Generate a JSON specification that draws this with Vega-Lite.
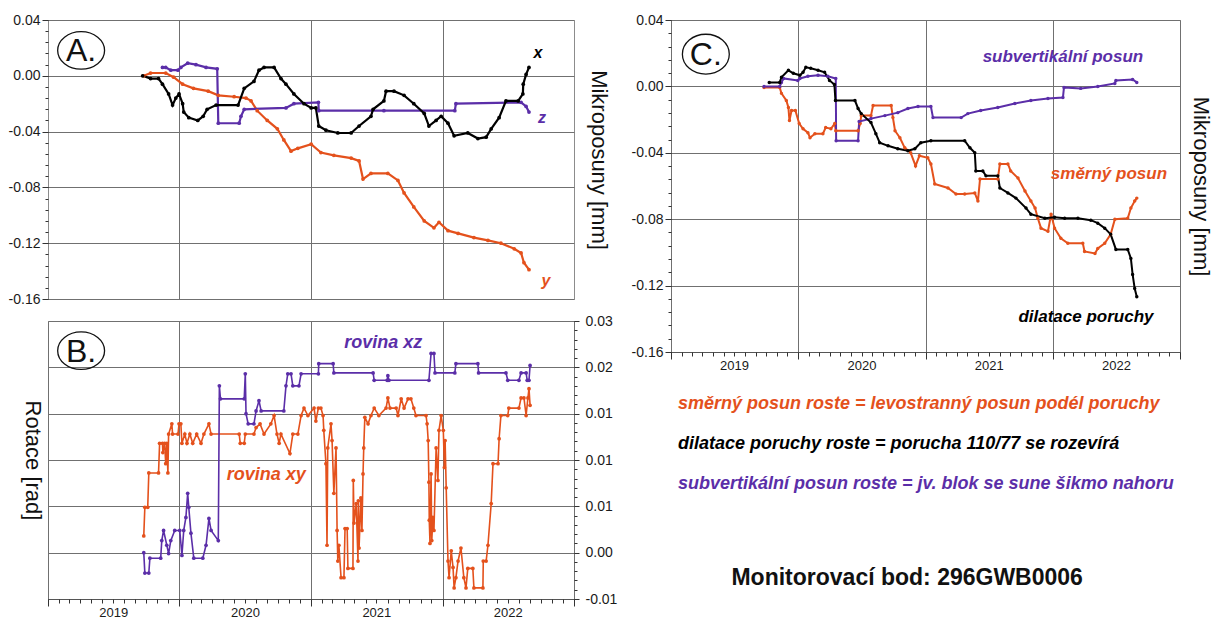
{
"$schema": "https://vega.github.io/schema/vega-lite/v6.json",
"padding": {"left": 7, "top": 12, "right": 0, "bottom": 0},
"background": "white",
"config": {
  "font": "Liberation Sans",
  "locale": {"number": {"decimal": ".", "thousands": ",", "grouping": [3], "currency": ["$", ""], "minus": "-"}},
  "view": {"stroke": "#8c8c8c", "strokeWidth": 1},
  "axis": {"labelFontSize": 14, "labelColor": "#1a1a1a", "tickColor": "#333333", "domainColor": "#555555", "gridColor": "#707070", "gridWidth": 1, "titleFontSize": 22, "titleFontWeight": "normal", "titleColor": "#111111", "labelFont": "Liberation Sans", "titleFont": "Liberation Sans"}
},
"resolve": {"scale": {"color": "independent"}},
"datasets": {
"panelA": [
{"date":"2019-09-24","series":"y","value":0.000},{"date":"2019-10-13","series":"y","value":0.002},{"date":"2019-11-24","series":"y","value":0.002},{"date":"2019-12-16","series":"y","value":-0.001},{"date":"2020-01-10","series":"y","value":-0.006},{"date":"2020-02-09","series":"y","value":-0.009},{"date":"2020-03-21","series":"y","value":-0.011},{"date":"2020-04-18","series":"y","value":-0.014},{"date":"2020-06-01","series":"y","value":-0.015},{"date":"2020-07-04","series":"y","value":-0.016},{"date":"2020-07-18","series":"y","value":-0.018},{"date":"2020-08-04","series":"y","value":-0.025},{"date":"2020-09-01","series":"y","value":-0.032},{"date":"2020-09-29","series":"y","value":-0.038},{"date":"2020-10-17","series":"y","value":-0.046},{"date":"2020-11-06","series":"y","value":-0.054},{"date":"2020-11-25","series":"y","value":-0.052},{"date":"2021-01-01","series":"y","value":-0.049},{"date":"2021-01-28","series":"y","value":-0.055},{"date":"2021-03-05","series":"y","value":-0.057},{"date":"2021-04-22","series":"y","value":-0.059},{"date":"2021-05-14","series":"y","value":-0.061},{"date":"2021-05-25","series":"y","value":-0.074},{"date":"2021-06-16","series":"y","value":-0.070},{"date":"2021-08-02","series":"y","value":-0.070},{"date":"2021-08-30","series":"y","value":-0.075},{"date":"2021-09-16","series":"y","value":-0.084},{"date":"2021-10-13","series":"y","value":-0.094},{"date":"2021-11-11","series":"y","value":-0.104},{"date":"2021-12-08","series":"y","value":-0.109},{"date":"2021-12-22","series":"y","value":-0.105},{"date":"2022-01-16","series":"y","value":-0.111},{"date":"2022-02-13","series":"y","value":-0.113},{"date":"2022-03-29","series":"y","value":-0.116},{"date":"2022-05-07","series":"y","value":-0.118},{"date":"2022-06-12","series":"y","value":-0.120},{"date":"2022-07-19","series":"y","value":-0.124},{"date":"2022-08-07","series":"y","value":-0.127},{"date":"2022-08-15","series":"y","value":-0.134},{"date":"2022-08-29","series":"y","value":-0.139},
{"date":"2019-11-15","series":"z","value":0.006},{"date":"2019-11-24","series":"z","value":0.006},{"date":"2019-12-08","series":"z","value":0.004},{"date":"2019-12-28","series":"z","value":0.004},{"date":"2020-01-05","series":"z","value":0.006},{"date":"2020-01-24","series":"z","value":0.009},{"date":"2020-02-16","series":"z","value":0.008},{"date":"2020-03-15","series":"z","value":0.006},{"date":"2020-04-15","series":"z","value":0.005},{"date":"2020-04-18","series":"z","value":-0.034},{"date":"2020-06-15","series":"z","value":-0.034},{"date":"2020-06-20","series":"z","value":-0.029},{"date":"2020-06-29","series":"z","value":-0.024},{"date":"2020-10-23","series":"z","value":-0.023},{"date":"2020-11-14","series":"z","value":-0.020},{"date":"2021-01-21","series":"z","value":-0.019},{"date":"2021-01-22","series":"z","value":-0.025},{"date":"2021-07-22","series":"z","value":-0.025},{"date":"2022-02-04","series":"z","value":-0.025},{"date":"2022-02-07","series":"z","value":-0.020},{"date":"2022-08-07","series":"z","value":-0.019},{"date":"2022-08-21","series":"z","value":-0.022},{"date":"2022-08-29","series":"z","value":-0.026},
{"date":"2019-09-21","series":"x","value":0.000},{"date":"2019-10-13","series":"x","value":-0.002},{"date":"2019-11-04","series":"x","value":-0.002},{"date":"2019-11-15","series":"x","value":-0.006},{"date":"2019-12-02","series":"x","value":-0.013},{"date":"2019-12-13","series":"x","value":-0.021},{"date":"2019-12-22","series":"x","value":-0.016},{"date":"2019-12-31","series":"x","value":-0.013},{"date":"2020-01-10","series":"x","value":-0.020},{"date":"2020-01-13","series":"x","value":-0.026},{"date":"2020-01-27","series":"x","value":-0.030},{"date":"2020-02-21","series":"x","value":-0.032},{"date":"2020-03-07","series":"x","value":-0.029},{"date":"2020-03-18","series":"x","value":-0.024},{"date":"2020-04-12","series":"x","value":-0.021},{"date":"2020-06-12","series":"x","value":-0.021},{"date":"2020-06-29","series":"x","value":-0.009},{"date":"2020-07-26","series":"x","value":-0.004},{"date":"2020-08-09","series":"x","value":0.004},{"date":"2020-08-23","series":"x","value":0.006},{"date":"2020-09-20","series":"x","value":0.006},{"date":"2020-10-09","series":"x","value":-0.002},{"date":"2020-10-23","series":"x","value":-0.006},{"date":"2020-11-14","series":"x","value":-0.013},{"date":"2020-12-12","series":"x","value":-0.020},{"date":"2021-01-01","series":"x","value":-0.023},{"date":"2021-01-14","series":"x","value":-0.023},{"date":"2021-01-22","series":"x","value":-0.036},{"date":"2021-02-11","series":"x","value":-0.039},{"date":"2021-03-16","series":"x","value":-0.041},{"date":"2021-04-22","series":"x","value":-0.041},{"date":"2021-05-14","series":"x","value":-0.036},{"date":"2021-06-16","series":"x","value":-0.029},{"date":"2021-06-22","series":"x","value":-0.024},{"date":"2021-07-22","series":"x","value":-0.018},{"date":"2021-07-28","series":"x","value":-0.011},{"date":"2021-08-19","series":"x","value":-0.011},{"date":"2021-09-16","series":"x","value":-0.014},{"date":"2021-10-13","series":"x","value":-0.020},{"date":"2021-11-11","series":"x","value":-0.027},{"date":"2021-11-24","series":"x","value":-0.036},{"date":"2021-12-14","series":"x","value":-0.032},{"date":"2021-12-28","series":"x","value":-0.029},{"date":"2022-01-16","series":"x","value":-0.034},{"date":"2022-02-02","series":"x","value":-0.043},{"date":"2022-03-12","series":"x","value":-0.041},{"date":"2022-04-09","series":"x","value":-0.045},{"date":"2022-05-02","series":"x","value":-0.044},{"date":"2022-05-16","series":"x","value":-0.038},{"date":"2022-06-07","series":"x","value":-0.030},{"date":"2022-06-26","series":"x","value":-0.018},{"date":"2022-07-30","series":"x","value":-0.018},{"date":"2022-08-12","series":"x","value":-0.013},{"date":"2022-08-13","series":"x","value":-0.006},{"date":"2022-08-21","series":"x","value":0.001},{"date":"2022-08-29","series":"x","value":0.006}
],
"panelB": [
{"date":"2019-09-24","series":"xy","value":0.0018},{"date":"2019-09-27","series":"xy","value":0.0049},{"date":"2019-10-05","series":"xy","value":0.0049},{"date":"2019-10-08","series":"xy","value":0.0086},{"date":"2019-11-04","series":"xy","value":0.0086},{"date":"2019-11-07","series":"xy","value":0.0118},{"date":"2019-11-15","series":"xy","value":0.0118},{"date":"2019-11-16","series":"xy","value":0.0108},{"date":"2019-11-21","series":"xy","value":0.0118},{"date":"2019-11-24","series":"xy","value":0.0096},{"date":"2019-11-27","series":"xy","value":0.0118},{"date":"2019-11-30","series":"xy","value":0.0086},{"date":"2019-12-02","series":"xy","value":0.0128},{"date":"2019-12-11","series":"xy","value":0.0139},{"date":"2019-12-13","series":"xy","value":0.0128},{"date":"2019-12-28","series":"xy","value":0.0128},{"date":"2019-12-31","series":"xy","value":0.0139},{"date":"2020-01-05","series":"xy","value":0.0139},{"date":"2020-01-08","series":"xy","value":0.0118},{"date":"2020-01-16","series":"xy","value":0.0128},{"date":"2020-01-22","series":"xy","value":0.0118},{"date":"2020-01-30","series":"xy","value":0.0128},{"date":"2020-02-07","series":"xy","value":0.0118},{"date":"2020-02-18","series":"xy","value":0.0128},{"date":"2020-03-01","series":"xy","value":0.0118},{"date":"2020-03-09","series":"xy","value":0.0128},{"date":"2020-03-23","series":"xy","value":0.0139},{"date":"2020-03-29","series":"xy","value":0.0128},{"date":"2020-06-15","series":"xy","value":0.0128},{"date":"2020-06-18","series":"xy","value":0.0118},{"date":"2020-06-29","series":"xy","value":0.0118},{"date":"2020-07-02","series":"xy","value":0.0128},{"date":"2020-07-26","series":"xy","value":0.0128},{"date":"2020-08-01","series":"xy","value":0.0135},{"date":"2020-08-12","series":"xy","value":0.0139},{"date":"2020-08-23","series":"xy","value":0.0128},{"date":"2020-09-11","series":"xy","value":0.0139},{"date":"2020-09-20","series":"xy","value":0.0148},{"date":"2020-09-28","series":"xy","value":0.0128},{"date":"2020-10-04","series":"xy","value":0.0118},{"date":"2020-10-09","series":"xy","value":0.0128},{"date":"2020-11-03","series":"xy","value":0.0107},{"date":"2020-11-11","series":"xy","value":0.0128},{"date":"2020-11-25","series":"xy","value":0.0128},{"date":"2020-12-04","series":"xy","value":0.0148},{"date":"2020-12-12","series":"xy","value":0.0156},{"date":"2020-12-23","series":"xy","value":0.0148},{"date":"2021-01-09","series":"xy","value":0.0156},{"date":"2021-01-14","series":"xy","value":0.0142},{"date":"2021-01-21","series":"xy","value":0.0156},{"date":"2021-01-28","series":"xy","value":0.0156},{"date":"2021-02-03","series":"xy","value":0.0148},{"date":"2021-02-05","series":"xy","value":0.0132},{"date":"2021-02-11","series":"xy","value":0.0096},{"date":"2021-02-14","series":"xy","value":0.0008},{"date":"2021-02-16","series":"xy","value":0.0113},{"date":"2021-02-25","series":"xy","value":0.0139},{"date":"2021-02-28","series":"xy","value":0.0121},{"date":"2021-03-05","series":"xy","value":0.0064},{"date":"2021-03-11","series":"xy","value":0.0113},{"date":"2021-03-14","series":"xy","value":0.0024},{"date":"2021-03-16","series":"xy","value":-0.0009},{"date":"2021-03-19","series":"xy","value":0.0008},{"date":"2021-03-25","series":"xy","value":-0.0027},{"date":"2021-04-02","series":"xy","value":-0.0027},{"date":"2021-04-05","series":"xy","value":0.0026},{"date":"2021-04-11","series":"xy","value":0.0026},{"date":"2021-04-13","series":"xy","value":-0.0017},{"date":"2021-04-27","series":"xy","value":-0.0017},{"date":"2021-04-28","series":"xy","value":0.0078},{"date":"2021-04-30","series":"xy","value":0.0032},{"date":"2021-05-06","series":"xy","value":0.0053},{"date":"2021-05-11","series":"xy","value":-0.0009},{"date":"2021-05-12","series":"xy","value":0.0056},{"date":"2021-05-14","series":"xy","value":0.0005},{"date":"2021-05-19","series":"xy","value":0.0059},{"date":"2021-05-22","series":"xy","value":0.0024},{"date":"2021-05-25","series":"xy","value":0.0085},{"date":"2021-05-27","series":"xy","value":0.0113},{"date":"2021-05-30","series":"xy","value":0.0146},{"date":"2021-06-08","series":"xy","value":0.0139},{"date":"2021-06-16","series":"xy","value":0.0148},{"date":"2021-06-25","series":"xy","value":0.0156},{"date":"2021-07-08","series":"xy","value":0.0148},{"date":"2021-07-28","series":"xy","value":0.0156},{"date":"2021-08-02","series":"xy","value":0.0167},{"date":"2021-08-08","series":"xy","value":0.0156},{"date":"2021-08-25","series":"xy","value":0.0156},{"date":"2021-08-30","series":"xy","value":0.0148},{"date":"2021-09-08","series":"xy","value":0.0166},{"date":"2021-09-16","series":"xy","value":0.0156},{"date":"2021-09-27","series":"xy","value":0.0166},{"date":"2021-10-05","series":"xy","value":0.0166},{"date":"2021-10-13","series":"xy","value":0.0156},{"date":"2021-10-19","series":"xy","value":0.0148},{"date":"2021-11-16","series":"xy","value":0.0148},{"date":"2021-11-19","series":"xy","value":0.0139},{"date":"2021-11-22","series":"xy","value":0.0121},{"date":"2021-11-24","series":"xy","value":0.0076},{"date":"2021-11-25","series":"xy","value":0.0035},{"date":"2021-11-27","series":"xy","value":0.0010},{"date":"2021-11-30","series":"xy","value":0.0085},{"date":"2021-12-02","series":"xy","value":0.0013},{"date":"2021-12-05","series":"xy","value":0.0038},{"date":"2021-12-08","series":"xy","value":0.0024},{"date":"2021-12-14","series":"xy","value":0.0113},{"date":"2021-12-19","series":"xy","value":0.0078},{"date":"2021-12-22","series":"xy","value":0.0132},{"date":"2021-12-28","series":"xy","value":0.0148},{"date":"2022-01-03","series":"xy","value":0.0132},{"date":"2022-01-06","series":"xy","value":0.0092},{"date":"2022-01-08","series":"xy","value":0.0121},{"date":"2022-01-11","series":"xy","value":0.0070},{"date":"2022-01-16","series":"xy","value":-0.0009},{"date":"2022-01-19","series":"xy","value":-0.0027},{"date":"2022-01-25","series":"xy","value":0.0002},{"date":"2022-01-30","series":"xy","value":-0.0016},{"date":"2022-02-02","series":"xy","value":-0.0038},{"date":"2022-02-07","series":"xy","value":-0.0027},{"date":"2022-02-13","series":"xy","value":-0.0009},{"date":"2022-02-21","series":"xy","value":0.0005},{"date":"2022-03-01","series":"xy","value":-0.0027},{"date":"2022-03-07","series":"xy","value":-0.0038},{"date":"2022-03-12","series":"xy","value":-0.0017},{"date":"2022-03-26","series":"xy","value":-0.0017},{"date":"2022-03-29","series":"xy","value":-0.0038},{"date":"2022-04-23","series":"xy","value":-0.0038},{"date":"2022-04-24","series":"xy","value":-0.0009},{"date":"2022-05-02","series":"xy","value":-0.0009},{"date":"2022-05-07","series":"xy","value":0.0008},{"date":"2022-05-16","series":"xy","value":0.0053},{"date":"2022-05-21","series":"xy","value":0.0096},{"date":"2022-06-04","series":"xy","value":0.0096},{"date":"2022-06-07","series":"xy","value":0.0123},{"date":"2022-06-12","series":"xy","value":0.0148},{"date":"2022-07-01","series":"xy","value":0.0148},{"date":"2022-07-04","series":"xy","value":0.0156},{"date":"2022-08-01","series":"xy","value":0.0156},{"date":"2022-08-07","series":"xy","value":0.0167},{"date":"2022-08-15","series":"xy","value":0.0167},{"date":"2022-08-21","series":"xy","value":0.0148},{"date":"2022-08-26","series":"xy","value":0.0167},{"date":"2022-08-29","series":"xy","value":0.0177},{"date":"2022-09-01","series":"xy","value":0.0159},
{"date":"2019-09-24","series":"xz","value":0.0000},{"date":"2019-09-27","series":"xz","value":-0.0022},{"date":"2019-10-08","series":"xz","value":-0.0022},{"date":"2019-10-11","series":"xz","value":-0.0006},{"date":"2019-11-10","series":"xz","value":-0.0006},{"date":"2019-11-13","series":"xz","value":0.0013},{"date":"2019-11-18","series":"xz","value":0.0024},{"date":"2019-11-27","series":"xz","value":0.0008},{"date":"2019-12-02","series":"xz","value":-0.0001},{"date":"2019-12-08","series":"xz","value":0.0013},{"date":"2019-12-19","series":"xz","value":0.0024},{"date":"2020-01-02","series":"xz","value":0.0024},{"date":"2020-01-08","series":"xz","value":-0.0003},{"date":"2020-01-13","series":"xz","value":0.0024},{"date":"2020-01-19","series":"xz","value":0.0038},{"date":"2020-01-24","series":"xz","value":0.0064},{"date":"2020-01-27","series":"xz","value":0.0049},{"date":"2020-02-02","series":"xz","value":0.0021},{"date":"2020-02-10","series":"xz","value":-0.0006},{"date":"2020-03-06","series":"xz","value":-0.0006},{"date":"2020-03-15","series":"xz","value":0.0008},{"date":"2020-03-23","series":"xz","value":0.0037},{"date":"2020-03-29","series":"xz","value":0.0024},{"date":"2020-04-18","series":"xz","value":0.0013},{"date":"2020-04-21","series":"xz","value":0.0180},{"date":"2020-04-24","series":"xz","value":0.0166},{"date":"2020-06-29","series":"xz","value":0.0166},{"date":"2020-07-02","series":"xz","value":0.0193},{"date":"2020-07-04","series":"xz","value":0.0150},{"date":"2020-07-10","series":"xz","value":0.0139},{"date":"2020-07-26","series":"xz","value":0.0139},{"date":"2020-08-01","series":"xz","value":0.0153},{"date":"2020-08-09","series":"xz","value":0.0164},{"date":"2020-08-15","series":"xz","value":0.0153},{"date":"2020-10-17","series":"xz","value":0.0153},{"date":"2020-10-23","series":"xz","value":0.0180},{"date":"2020-10-28","series":"xz","value":0.0193},{"date":"2020-11-06","series":"xz","value":0.0193},{"date":"2020-11-11","series":"xz","value":0.0180},{"date":"2020-11-28","series":"xz","value":0.0180},{"date":"2020-12-04","series":"xz","value":0.0193},{"date":"2021-01-21","series":"xz","value":0.0193},{"date":"2021-01-22","series":"xz","value":0.0204},{"date":"2021-03-03","series":"xz","value":0.0204},{"date":"2021-03-05","series":"xz","value":0.0194},{"date":"2021-06-22","series":"xz","value":0.0194},{"date":"2021-06-25","series":"xz","value":0.0186},{"date":"2021-07-31","series":"xz","value":0.0186},{"date":"2021-08-02","series":"xz","value":0.0191},{"date":"2021-08-05","series":"xz","value":0.0186},{"date":"2021-11-24","series":"xz","value":0.0186},{"date":"2021-11-30","series":"xz","value":0.0215},{"date":"2021-12-08","series":"xz","value":0.0215},{"date":"2021-12-11","series":"xz","value":0.0194},{"date":"2022-02-04","series":"xz","value":0.0194},{"date":"2022-02-07","series":"xz","value":0.0204},{"date":"2022-04-09","series":"xz","value":0.0204},{"date":"2022-04-11","series":"xz","value":0.0194},{"date":"2022-06-26","series":"xz","value":0.0194},{"date":"2022-07-01","series":"xz","value":0.0186},{"date":"2022-08-01","series":"xz","value":0.0186},{"date":"2022-08-07","series":"xz","value":0.0194},{"date":"2022-08-21","series":"xz","value":0.0194},{"date":"2022-08-24","series":"xz","value":0.0186},{"date":"2022-08-29","series":"xz","value":0.0186},{"date":"2022-09-01","series":"xz","value":0.0202}
],
"panelC": [
{"date":"2019-09-25","series":"směrný posun","value":-0.0006},{"date":"2019-11-09","series":"směrný posun","value":-0.0006},{"date":"2019-11-14","series":"směrný posun","value":-0.0042},{"date":"2019-11-28","series":"směrný posun","value":-0.0085},{"date":"2019-12-04","series":"směrný posun","value":-0.0127},{"date":"2019-12-07","series":"směrný posun","value":-0.0206},{"date":"2019-12-13","series":"směrný posun","value":-0.0145},{"date":"2019-12-24","series":"směrný posun","value":-0.0145},{"date":"2020-01-04","series":"směrný posun","value":-0.0224},{"date":"2020-01-15","series":"směrný posun","value":-0.0255},{"date":"2020-01-29","series":"směrný posun","value":-0.0279},{"date":"2020-02-04","series":"směrný posun","value":-0.0309},{"date":"2020-02-18","series":"směrný posun","value":-0.0285},{"date":"2020-03-12","series":"směrný posun","value":-0.0285},{"date":"2020-03-20","series":"směrný posun","value":-0.0248},{"date":"2020-04-04","series":"směrný posun","value":-0.0255},{"date":"2020-04-15","series":"směrný posun","value":-0.0224},{"date":"2020-04-18","series":"směrný posun","value":-0.0267},{"date":"2020-06-21","series":"směrný posun","value":-0.0267},{"date":"2020-06-27","series":"směrný posun","value":-0.0224},{"date":"2020-06-30","series":"směrný posun","value":-0.0176},{"date":"2020-07-28","series":"směrný posun","value":-0.0176},{"date":"2020-08-03","series":"směrný posun","value":-0.0115},{"date":"2020-09-24","series":"směrný posun","value":-0.0115},{"date":"2020-09-29","series":"směrný posun","value":-0.0188},{"date":"2020-10-05","series":"směrný posun","value":-0.0267},{"date":"2020-10-19","series":"směrný posun","value":-0.0309},{"date":"2020-11-02","series":"směrný posun","value":-0.0370},{"date":"2020-11-19","series":"směrný posun","value":-0.0400},{"date":"2020-12-03","series":"směrný posun","value":-0.0479},{"date":"2020-12-14","series":"směrný posun","value":-0.0418},{"date":"2021-01-07","series":"směrný posun","value":-0.0430},{"date":"2021-01-16","series":"směrný posun","value":-0.0467},{"date":"2021-01-27","series":"směrný posun","value":-0.0588},{"date":"2021-03-06","series":"směrný posun","value":-0.0612},{"date":"2021-03-29","series":"směrný posun","value":-0.0648},{"date":"2021-04-23","series":"směrný posun","value":-0.0648},{"date":"2021-05-22","series":"směrný posun","value":-0.0642},{"date":"2021-05-31","series":"směrný posun","value":-0.0691},{"date":"2021-06-06","series":"směrný posun","value":-0.0558},{"date":"2021-07-27","series":"směrný posun","value":-0.0558},{"date":"2021-08-02","series":"směrný posun","value":-0.0467},{"date":"2021-08-25","series":"směrný posun","value":-0.0467},{"date":"2021-09-02","series":"směrný posun","value":-0.0509},{"date":"2021-09-23","series":"směrný posun","value":-0.0552},{"date":"2021-10-13","series":"směrný posun","value":-0.0630},{"date":"2021-10-30","series":"směrný posun","value":-0.0691},{"date":"2021-11-11","series":"směrný posun","value":-0.0733},{"date":"2021-11-19","series":"směrný posun","value":-0.0794},{"date":"2021-11-28","series":"směrný posun","value":-0.0854},{"date":"2021-12-18","series":"směrný posun","value":-0.0873},{"date":"2021-12-27","series":"směrný posun","value":-0.0770},{"date":"2022-01-06","series":"směrný posun","value":-0.0854},{"date":"2022-01-24","series":"směrný posun","value":-0.0915},{"date":"2022-02-13","series":"směrný posun","value":-0.0945},{"date":"2022-03-28","series":"směrný posun","value":-0.0945},{"date":"2022-04-02","series":"směrný posun","value":-0.0994},{"date":"2022-05-02","series":"směrný posun","value":-0.1006},{"date":"2022-05-10","series":"směrný posun","value":-0.0976},{"date":"2022-05-30","series":"směrný posun","value":-0.0945},{"date":"2022-06-16","series":"směrný posun","value":-0.0891},{"date":"2022-06-28","series":"směrný posun","value":-0.0800},{"date":"2022-08-04","series":"směrný posun","value":-0.0794},{"date":"2022-08-13","series":"směrný posun","value":-0.0733},{"date":"2022-08-24","series":"směrný posun","value":-0.0691},{"date":"2022-08-30","series":"směrný posun","value":-0.0673},
{"date":"2019-09-25","series":"subvertikální posun","value":0.0000},{"date":"2019-11-09","series":"subvertikální posun","value":0.0000},{"date":"2019-11-14","series":"subvertikální posun","value":0.0024},{"date":"2019-11-20","series":"subvertikální posun","value":0.0048},{"date":"2019-12-31","series":"subvertikální posun","value":0.0036},{"date":"2020-01-06","series":"subvertikální posun","value":0.0048},{"date":"2020-01-29","series":"subvertikální posun","value":0.0061},{"date":"2020-02-27","series":"subvertikální posun","value":0.0067},{"date":"2020-03-26","series":"subvertikální posun","value":0.0061},{"date":"2020-04-18","series":"subvertikální posun","value":0.0048},{"date":"2020-04-19","series":"subvertikální posun","value":-0.0327},{"date":"2020-06-21","series":"subvertikální posun","value":-0.0327},{"date":"2020-06-24","series":"subvertikální posun","value":-0.0212},{"date":"2020-07-28","series":"subvertikální posun","value":-0.0194},{"date":"2020-09-06","series":"subvertikální posun","value":-0.0176},{"date":"2020-10-13","series":"subvertikální posun","value":-0.0158},{"date":"2020-11-11","series":"subvertikální posun","value":-0.0133},{"date":"2020-12-10","series":"subvertikální posun","value":-0.0121},{"date":"2021-01-16","series":"subvertikální posun","value":-0.0121},{"date":"2021-01-22","series":"subvertikální posun","value":-0.0188},{"date":"2021-04-13","series":"subvertikální posun","value":-0.0188},{"date":"2021-05-02","series":"subvertikální posun","value":-0.0164},{"date":"2021-06-08","series":"subvertikální posun","value":-0.0145},{"date":"2021-07-27","series":"subvertikální posun","value":-0.0127},{"date":"2021-09-14","series":"subvertikální posun","value":-0.0103},{"date":"2021-10-30","series":"subvertikální posun","value":-0.0085},{"date":"2021-12-18","series":"subvertikální posun","value":-0.0073},{"date":"2022-01-30","series":"subvertikální posun","value":-0.0067},{"date":"2022-02-02","series":"subvertikální posun","value":-0.0006},{"date":"2022-03-22","series":"subvertikální posun","value":-0.0012},{"date":"2022-05-10","series":"subvertikální posun","value":0.0000},{"date":"2022-06-28","series":"subvertikální posun","value":0.0018},{"date":"2022-07-01","series":"subvertikální posun","value":0.0036},{"date":"2022-08-18","series":"subvertikální posun","value":0.0042},{"date":"2022-08-30","series":"subvertikální posun","value":0.0024},
{"date":"2019-10-10","series":"dilatace poruchy","value":0.0024},{"date":"2019-11-09","series":"dilatace poruchy","value":0.0024},{"date":"2019-11-14","series":"dilatace poruchy","value":0.0055},{"date":"2019-12-04","series":"dilatace poruchy","value":0.0097},{"date":"2019-12-18","series":"dilatace poruchy","value":0.0079},{"date":"2020-01-06","series":"dilatace poruchy","value":0.0067},{"date":"2020-01-15","series":"dilatace poruchy","value":0.0085},{"date":"2020-01-23","series":"dilatace poruchy","value":0.0115},{"date":"2020-02-06","series":"dilatace poruchy","value":0.0109},{"date":"2020-02-27","series":"dilatace poruchy","value":0.0097},{"date":"2020-03-17","series":"dilatace poruchy","value":0.0085},{"date":"2020-03-31","series":"dilatace poruchy","value":0.0036},{"date":"2020-04-14","series":"dilatace poruchy","value":0.0012},{"date":"2020-04-17","series":"dilatace poruchy","value":-0.0085},{"date":"2020-06-12","series":"dilatace poruchy","value":-0.0085},{"date":"2020-06-21","series":"dilatace poruchy","value":-0.0133},{"date":"2020-06-30","series":"dilatace poruchy","value":-0.0164},{"date":"2020-07-28","series":"dilatace poruchy","value":-0.0218},{"date":"2020-08-11","series":"dilatace poruchy","value":-0.0285},{"date":"2020-08-22","series":"dilatace poruchy","value":-0.0339},{"date":"2020-09-15","series":"dilatace poruchy","value":-0.0358},{"date":"2020-10-13","series":"dilatace poruchy","value":-0.0376},{"date":"2020-11-11","series":"dilatace poruchy","value":-0.0388},{"date":"2020-12-01","series":"dilatace poruchy","value":-0.0376},{"date":"2020-12-18","series":"dilatace poruchy","value":-0.0339},{"date":"2021-01-16","series":"dilatace poruchy","value":-0.0327},{"date":"2021-04-23","series":"dilatace poruchy","value":-0.0327},{"date":"2021-05-08","series":"dilatace poruchy","value":-0.0370},{"date":"2021-05-22","series":"dilatace poruchy","value":-0.0400},{"date":"2021-05-25","series":"dilatace poruchy","value":-0.0509},{"date":"2021-06-14","series":"dilatace poruchy","value":-0.0509},{"date":"2021-06-23","series":"dilatace poruchy","value":-0.0539},{"date":"2021-07-27","series":"dilatace poruchy","value":-0.0539},{"date":"2021-08-02","series":"dilatace poruchy","value":-0.0612},{"date":"2021-08-25","series":"dilatace poruchy","value":-0.0642},{"date":"2021-09-17","series":"dilatace poruchy","value":-0.0673},{"date":"2021-10-16","series":"dilatace poruchy","value":-0.0733},{"date":"2021-10-30","series":"dilatace poruchy","value":-0.0770},{"date":"2021-12-09","series":"dilatace poruchy","value":-0.0794},{"date":"2022-01-06","series":"dilatace poruchy","value":-0.0788},{"date":"2022-02-04","series":"dilatace poruchy","value":-0.0794},{"date":"2022-03-14","series":"dilatace poruchy","value":-0.0794},{"date":"2022-04-20","series":"dilatace poruchy","value":-0.0806},{"date":"2022-05-10","series":"dilatace poruchy","value":-0.0824},{"date":"2022-05-30","series":"dilatace poruchy","value":-0.0854},{"date":"2022-06-16","series":"dilatace poruchy","value":-0.0891},{"date":"2022-07-01","series":"dilatace poruchy","value":-0.0982},{"date":"2022-08-04","series":"dilatace poruchy","value":-0.0982},{"date":"2022-08-13","series":"dilatace poruchy","value":-0.1036},{"date":"2022-08-18","series":"dilatace poruchy","value":-0.1133},{"date":"2022-08-24","series":"dilatace poruchy","value":-0.1218},{"date":"2022-08-30","series":"dilatace poruchy","value":-0.1267}
]
},
"spacing": 12,
"hconcat": [
{
 "resolve": {"scale": {"color": "independent"}},
 "vconcat": [
 {
  "width": 526, "height": 279,
  "resolve": {"axis": {"x": "independent", "y": "independent"}},
  "layer": [
   {
    "data": {"name": "panelA"},
    "mark": {"type": "line", "strokeWidth": 2.2, "point": {"filled": true, "size": 14}},
    "encoding": {
     "x": {"field": "date", "type": "temporal", "scale": {"domain": [{"year":2019,"month":1,"date":1},{"year":2023,"month":1,"date":1}]}, "axis": {"orient": "bottom", "values": [{"year":2020,"month":1,"date":1},{"year":2021,"month":1,"date":1},{"year":2022,"month":1,"date":1}], "grid": true, "ticks": false, "labels": false, "domain": false, "title": null}},
     "y": {"field": "value", "type": "quantitative", "scale": {"domain": [-0.16, 0.04], "nice": false, "zero": false}, "axis": {"orient": "left", "values": [-0.16,-0.12,-0.08,-0.04,0,0.04], "format": ".2f", "grid": true, "tickSize": 6, "labelPadding": 2, "domain": false, "title": null}},
     "color": {"field": "series", "type": "nominal", "scale": {"domain": ["y","z","x"], "range": ["#e4511c","#5b2ea8","#000000"]}, "legend": null}
    }
   },
   {
    "data": {"values": [{}]},
    "mark": {"type": "text", "text": "x", "fontSize": 16, "fontWeight": "bold", "fontStyle": "italic", "color": "#000000"},
    "encoding": {
     "x": {"datum": {"year":2022,"month":9,"date":23}, "type": "temporal", "axis": null},
     "y": {"datum": 0.0164, "type": "quantitative", "axis": {"orient": "left", "values": [-0.16,-0.152,-0.144,-0.136,-0.128,-0.12,-0.112,-0.104,-0.096,-0.088,-0.08,-0.072,-0.064,-0.056,-0.048,-0.04,-0.032,-0.024,-0.016,-0.008,0,0.008,0.016,0.024,0.032,0.04], "tickSize": 3, "labels": false, "grid": false, "domain": false, "title": null}}
    }
   },
   {
    "data": {"values": [{}]},
    "mark": {"type": "text", "text": "z", "fontSize": 16, "fontWeight": "bold", "fontStyle": "italic", "color": "#5b2ea8"},
    "encoding": {
     "x": {"datum": {"year":2022,"month":10,"date":4}, "type": "temporal", "axis": null},
     "y": {"datum": -0.030, "type": "quantitative", "axis": null}
    }
   },
   {
    "data": {"values": [{}]},
    "mark": {"type": "text", "text": "y", "fontSize": 16, "fontWeight": "bold", "fontStyle": "italic", "color": "#e4511c"},
    "encoding": {
     "x": {"datum": {"year":2022,"month":10,"date":15}, "type": "temporal", "axis": null},
     "y": {"datum": -0.147, "type": "quantitative", "axis": {"orient": "right", "title": "Mikroposuny [mm]", "ticks": false, "labels": false, "domain": false, "grid": false, "titlePadding": 12}}
    }
   },
   {
    "data": {"values": [{}]},
    "mark": {"type": "point", "shape": "M-1,0A1,0.8,0,1,0,1,0A1,0.8,0,1,0,-1,0Z", "size": 2200, "filled": false, "stroke": "#111111", "strokeWidth": 1.3, "opacity": 1},
    "encoding": {
     "x": {"datum": {"year":2019,"month":4,"date":3}, "type": "temporal", "axis": null},
     "y": {"datum": 0.0182, "type": "quantitative", "axis": null}
    }
   },
   {
    "data": {"values": [{}]},
    "mark": {"type": "text", "text": "A.", "fontSize": 32, "color": "#111111", "align": "center", "baseline": "middle", "dy": 1},
    "encoding": {
     "x": {"datum": {"year":2019,"month":4,"date":3}, "type": "temporal", "axis": null},
     "y": {"datum": 0.0182, "type": "quantitative", "axis": null}
    }
   }
  ]
 },
 {
  "width": 526, "height": 278,
  "resolve": {"axis": {"x": "independent", "y": "independent"}},
  "layer": [
   {
    "data": {"name": "panelB"},
    "mark": {"type": "line", "strokeWidth": 1.6, "point": {"filled": true, "size": 14}},
    "encoding": {
     "x": {"field": "date", "type": "temporal", "scale": {"domain": [{"year":2019,"month":1,"date":1},{"year":2023,"month":1,"date":1}]}, "axis": {"orient": "bottom", "values": [{"year":2019,"month":1,"date":1},{"year":2020,"month":1,"date":1},{"year":2021,"month":1,"date":1},{"year":2022,"month":1,"date":1},{"year":2023,"month":1,"date":1}], "grid": true, "tickSize": 7, "labels": false, "domain": true, "title": null}},
     "y": {"field": "value", "type": "quantitative", "scale": {"domain": [-0.005, 0.025], "nice": false, "zero": false}, "axis": {"orient": "right", "values": [-0.005,0,0.005,0.01,0.015,0.02,0.025], "format": ".2f", "grid": true, "tickSize": 5, "labelPadding": 6, "domain": false, "title": null}},
     "color": {"field": "series", "type": "nominal", "scale": {"domain": ["xy","xz"], "range": ["#e4511c","#5b2ea8"]}, "legend": null}
    }
   },
   {
    "data": {"values": [{}]},
    "mark": {"type": "text", "text": "rovina xz", "fontSize": 18, "fontWeight": "bold", "fontStyle": "italic", "color": "#5b2ea8"},
    "encoding": {
     "x": {"datum": {"year":2021,"month":7,"date":20}, "type": "temporal", "axis": {"orient": "bottom", "tickCount": {"interval": "month", "step": 1}, "tickSize": 4, "labelPadding": 3, "labelFontSize": 13, "labelExpr": "month(datum.value) == 6 ? timeFormat(datum.value, '%Y') : ''", "labelOverlap": false, "labelFlush": false, "labelBound": false, "grid": false, "domain": false, "title": null}},
     "y": {"datum": 0.0226, "type": "quantitative", "axis": {"orient": "left", "title": "Rotace [rad]", "titleAngle": 90, "titleBaseline": "top", "titlePadding": 6, "ticks": false, "labels": false, "domain": false, "grid": false}}
    }
   },
   {
    "data": {"values": [{}]},
    "mark": {"type": "text", "text": "rovina xy", "fontSize": 18, "fontWeight": "bold", "fontStyle": "italic", "color": "#e4511c"},
    "encoding": {
     "x": {"datum": {"year":2020,"month":8,"date":29}, "type": "temporal", "axis": null},
     "y": {"datum": 0.0084, "type": "quantitative", "axis": {"orient": "right", "values": [-0.005,-0.004,-0.003,-0.002,-0.001,0,0.001,0.002,0.003,0.004,0.005,0.006,0.007,0.008,0.009,0.01,0.011,0.012,0.013,0.014,0.015,0.016,0.017,0.018,0.019,0.02,0.021,0.022,0.023,0.024,0.025], "tickSize": 3, "labels": false, "grid": false, "domain": false, "title": null}}
    }
   },
   {
    "data": {"values": [{}]},
    "mark": {"type": "point", "shape": "M-1,0A1,0.8,0,1,0,1,0A1,0.8,0,1,0,-1,0Z", "size": 2200, "filled": false, "stroke": "#111111", "strokeWidth": 1.3, "opacity": 1},
    "encoding": {
     "x": {"datum": {"year":2019,"month":4,"date":3}, "type": "temporal", "axis": null},
     "y": {"datum": 0.0218, "type": "quantitative", "axis": null}
    }
   },
   {
    "data": {"values": [{}]},
    "mark": {"type": "text", "text": "B.", "fontSize": 32, "color": "#111111", "align": "center", "baseline": "middle", "dy": 1},
    "encoding": {
     "x": {"datum": {"year":2019,"month":4,"date":3}, "type": "temporal", "axis": null},
     "y": {"datum": 0.0218, "type": "quantitative", "axis": null}
    }
   }
  ]
 }
 ],
 "spacing": 22,
 "bounds": "flush"
},
{
 "resolve": {"scale": {"color": "independent"}},
 "vconcat": [
 {
  "width": 509, "height": 332,
  "resolve": {"axis": {"x": "independent", "y": "independent"}},
  "layer": [
   {
    "data": {"name": "panelC"},
    "mark": {"type": "line", "strokeWidth": 2, "point": {"filled": true, "size": 12}},
    "encoding": {
     "x": {"field": "date", "type": "temporal", "scale": {"domain": [{"year":2019,"month":1,"date":1},{"year":2023,"month":1,"date":1}]}, "axis": {"orient": "bottom", "values": [{"year":2019,"month":1,"date":1},{"year":2020,"month":1,"date":1},{"year":2021,"month":1,"date":1},{"year":2022,"month":1,"date":1},{"year":2023,"month":1,"date":1}], "grid": true, "tickSize": 7, "labels": false, "domain": true, "title": null}},
     "y": {"field": "value", "type": "quantitative", "scale": {"domain": [-0.16, 0.04], "nice": false, "zero": false}, "axis": {"orient": "left", "values": [-0.16,-0.12,-0.08,-0.04,0,0.04], "format": ".2f", "grid": true, "tickSize": 6, "labelPadding": 2, "domain": false, "title": null}},
     "color": {"field": "series", "type": "nominal", "scale": {"domain": ["směrný posun","subvertikální posun","dilatace poruchy"], "range": ["#e4511c","#5b2ea8","#000000"]}, "legend": null}
    }
   },
   {
    "data": {"values": [{}]},
    "mark": {"type": "text", "text": "subvertikální posun", "fontSize": 17, "fontWeight": "bold", "fontStyle": "italic", "color": "#5b2ea8"},
    "encoding": {
     "x": {"datum": {"year":2022,"month":1,"date":30}, "type": "temporal", "axis": {"orient": "bottom", "tickCount": {"interval": "month", "step": 1}, "tickSize": 4, "labelPadding": 3, "labelFontSize": 13, "labelExpr": "month(datum.value) == 6 ? timeFormat(datum.value, '%Y') : ''", "labelOverlap": false, "labelFlush": false, "labelBound": false, "grid": false, "domain": false, "title": null}},
     "y": {"datum": 0.0176, "type": "quantitative", "axis": {"orient": "left", "values": [-0.16,-0.152,-0.144,-0.136,-0.128,-0.12,-0.112,-0.104,-0.096,-0.088,-0.08,-0.072,-0.064,-0.056,-0.048,-0.04,-0.032,-0.024,-0.016,-0.008,0,0.008,0.016,0.024,0.032,0.04], "tickSize": 3, "labels": false, "grid": false, "domain": false, "title": null}}
    }
   },
   {
    "data": {"values": [{}]},
    "mark": {"type": "text", "text": "směrný posun", "fontSize": 17, "fontWeight": "bold", "fontStyle": "italic", "color": "#e4511c"},
    "encoding": {
     "x": {"datum": {"year":2022,"month":6,"date":11}, "type": "temporal", "axis": null},
     "y": {"datum": -0.0527, "type": "quantitative", "axis": {"orient": "right", "title": "Mikroposuny [mm]", "ticks": false, "labels": false, "domain": false, "grid": false, "titlePadding": 8}}
    }
   },
   {
    "data": {"values": [{}]},
    "mark": {"type": "text", "text": "dilatace poruchy", "fontSize": 17, "fontWeight": "bold", "fontStyle": "italic", "color": "#000000"},
    "encoding": {
     "x": {"datum": {"year":2022,"month":4,"date":6}, "type": "temporal", "axis": null},
     "y": {"datum": -0.1388, "type": "quantitative", "axis": null}
    }
   },
   {
    "data": {"values": [{}]},
    "mark": {"type": "point", "shape": "M-1,0A1,0.85,0,1,0,1,0A1,0.85,0,1,0,-1,0Z", "size": 2200, "filled": false, "stroke": "#111111", "strokeWidth": 1.3, "opacity": 1},
    "encoding": {
     "x": {"datum": {"year":2019,"month":4,"date":11}, "type": "temporal", "axis": null},
     "y": {"datum": 0.0194, "type": "quantitative", "axis": null}
    }
   },
   {
    "data": {"values": [{}]},
    "mark": {"type": "text", "text": "C.", "fontSize": 32, "color": "#111111", "align": "center", "baseline": "middle", "dy": 1},
    "encoding": {
     "x": {"datum": {"year":2019,"month":4,"date":11}, "type": "temporal", "axis": null},
     "y": {"datum": 0.0194, "type": "quantitative", "axis": null}
    }
   }
  ]
 },
 {
  "width": 509, "height": 220,
  "view": {"stroke": null},
  "layer": [
   {
    "data": {"values": [
      {"popis": "směrný posun roste = levostranný posun podél poruchy", "rada": "směrný posun", "poradi": 1},
      {"popis": "dilatace poruchy roste = porucha 110/77 se rozevírá", "rada": "dilatace poruchy", "poradi": 2},
      {"popis": "subvertikální posun roste = jv. blok se sune šikmo nahoru", "rada": "subvertikální posun", "poradi": 3}
    ]},
    "mark": {"type": "text", "align": "left", "baseline": "middle", "fontSize": 18, "fontWeight": "bold", "fontStyle": "italic", "dx": 7},
    "encoding": {
     "x": {"datum": 0, "type": "quantitative", "scale": {"domain": [0, 1]}, "axis": null},
     "y": {"field": "poradi", "type": "quantitative", "scale": {"domain": [0.2, 5.7], "reverse": true, "nice": false, "zero": false}, "axis": null},
     "text": {"field": "popis"},
     "color": {"field": "rada", "type": "nominal", "scale": {"domain": ["směrný posun","dilatace poruchy","subvertikální posun"], "range": ["#e4511c","#000000","#5b2ea8"]}, "legend": null}
    }
   },
   {
    "data": {"values": [{}]},
    "mark": {"type": "text", "text": "Monitorovací bod: 296GWB0006", "fontSize": 23, "fontWeight": "bold", "align": "center", "baseline": "middle", "color": "#111111"},
    "encoding": {
     "x": {"datum": 0.464, "type": "quantitative", "axis": null},
     "y": {"datum": 5.35, "type": "quantitative", "axis": null}
    }
   }
  ]
 }
 ],
 "spacing": 20,
 "bounds": "flush"
}
]
}
